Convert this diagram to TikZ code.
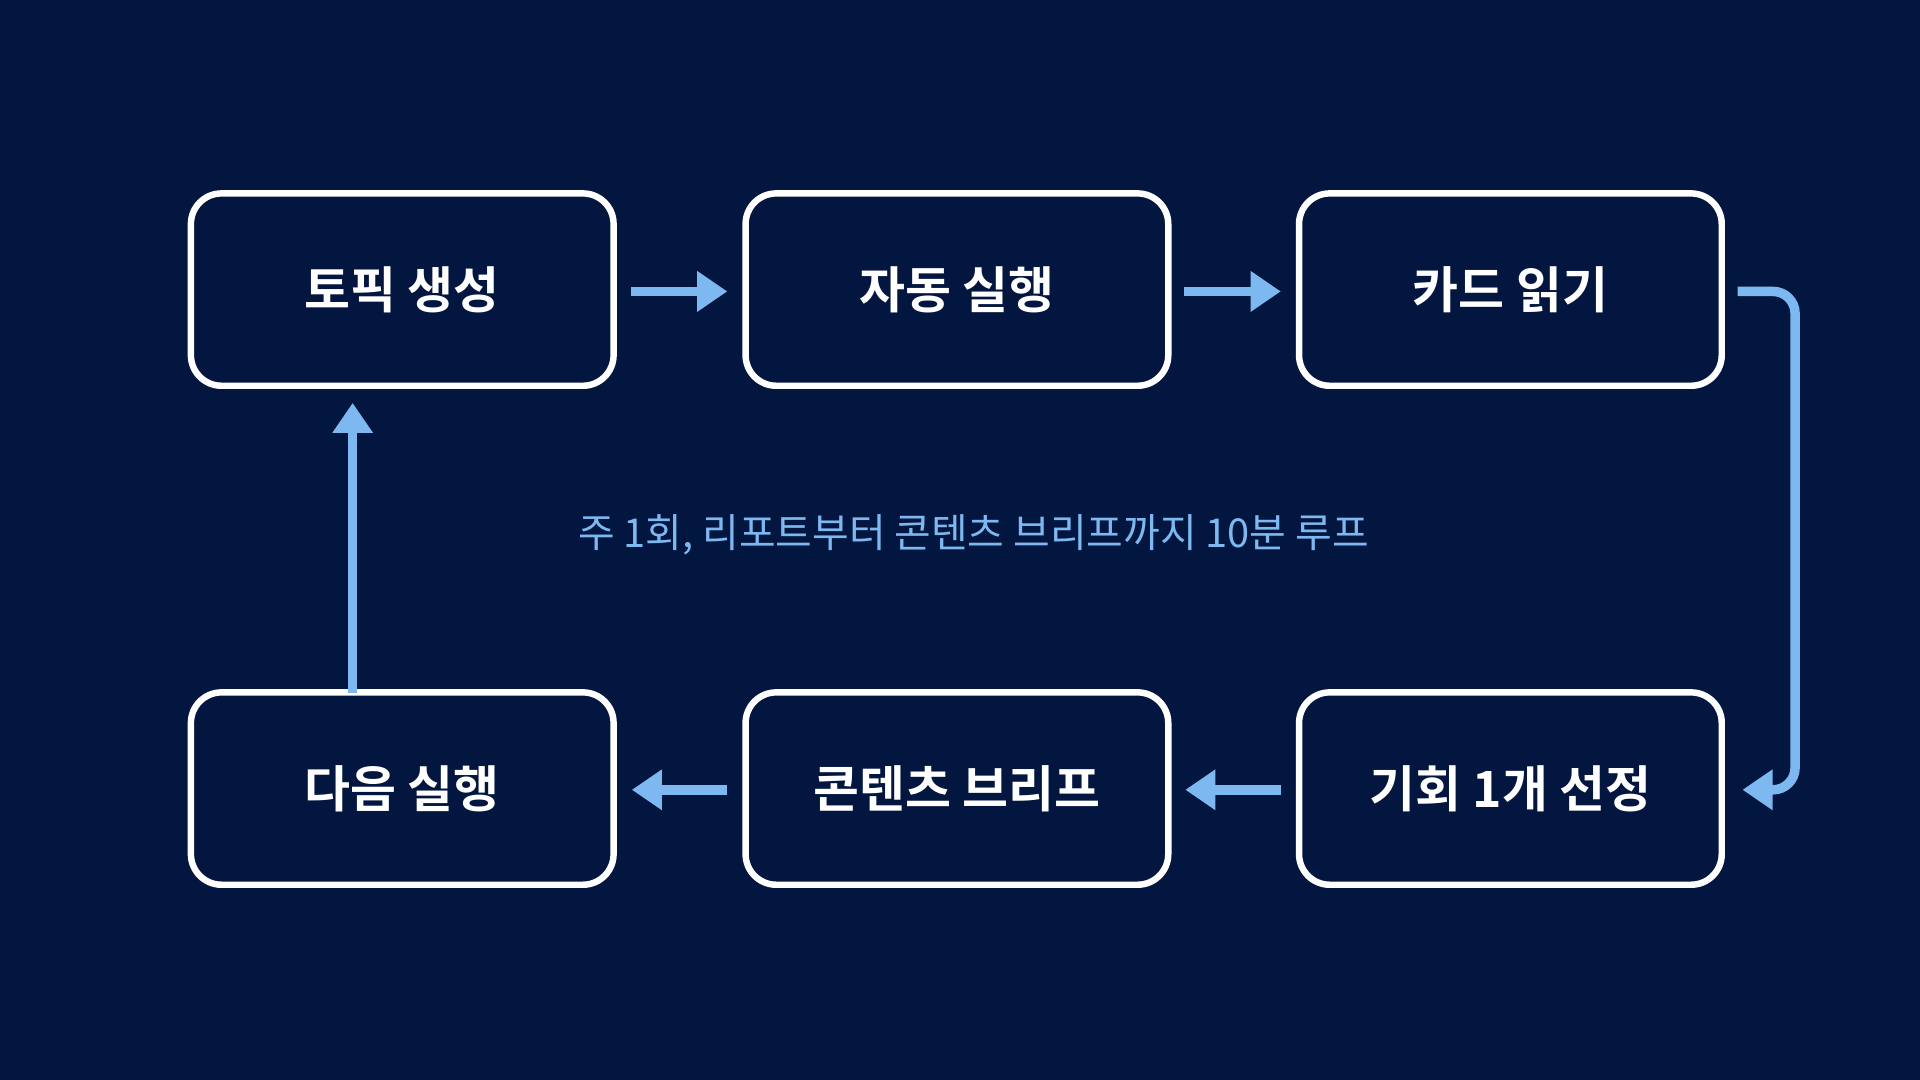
\documentclass[tikz,border=0pt]{standalone}
\usepackage{fontspec}
\newfontfamily\cjk{Noto Sans CJK KR}
\newfontfamily\cjkb{Noto Sans CJK KR Bold}
\definecolor{bg}{HTML}{02163F}
\definecolor{ac}{HTML}{7DB8F0}
\begin{document}
\begin{tikzpicture}[x=0.01cm,y=-0.01cm,
  box/.style={draw=white,line width=1.5pt,rounded corners=0.25cm,minimum width=3.45cm,minimum height=1.57cm,text=white,font=\cjkb\fontsize{11.6}{13}\selectfont},
  arr/.style={draw=ac,line width=2.2pt,-{Triangle[length=7pt,width=9pt]}}]
\usetikzlibrary{arrows.meta}
\fill[bg] (0,0) rectangle (1568,882);
\node[box] (a) at (328.5,236.5) {토픽 생성};
\node[box] (b) at (781.5,236.5) {자동 실행};
\node[box] (c) at (1233.5,236.5) {카드 읽기};
\node[box] (d) at (328.5,644) {다음 실행};
\node[box] (e) at (781.5,644) {콘텐츠 브리프};
\node[box] (f) at (1233.5,644) {기회 1개 선정};
\node[text=ac,font=\cjk\fontsize{9.25}{11}\selectfont] (t) at (795,437) {주 1회, 리포트부터 콘텐츠 브리프까지 10분 루프};
\coordinate (a1) at (515,238); \coordinate (a2) at (594,238);
\coordinate (b1) at (967,238); \coordinate (b2) at (1046,238);
\coordinate (c1) at (1419,238); \coordinate (f1) at (1423,645);
\coordinate (e1) at (594,645); \coordinate (e2) at (516,645);
\coordinate (f2) at (1046,645); \coordinate (f3) at (968,645);
\coordinate (d1) at (288,566); \coordinate (d2) at (288,329);
\draw[arr] (a1) -- (a2);
\draw[arr] (b1) -- (b2);
\draw[arr,rounded corners=0.18cm] (c1) -- (1466,238) -- (1466,645) -- (f1);
\draw[arr] (e1) -- (e2);
\draw[arr] (f2) -- (f3);
\draw[arr] (d1) -- (d2);
\end{tikzpicture}
\end{document}
